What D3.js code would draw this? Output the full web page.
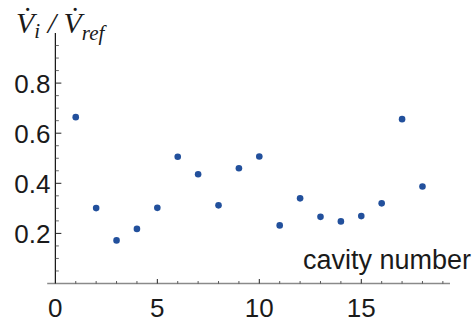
<!DOCTYPE html>
<html>
  <head>
    <meta charset="utf-8" />
    <title>Cavity flow ratio</title>
    <script src="https://d3js.org/d3.v7.min.js"></script>
    <style>
      body { margin: 0; background: #fff; }
      text { font-family: "Liberation Sans", Arial, sans-serif; }
      text.title { font-family: "Liberation Serif", "Times New Roman", serif; }
    </style>
  </head>
  <body>
    <svg width="474" height="331"></svg>

    <script>
      // values
      const cavities = [1, 2, 3, 4, 5, 6, 7, 8, 9, 10, 11, 12, 13, 14, 15, 16, 17, 18];
      const ratios = [0.664, 0.301, 0.172, 0.218, 0.302, 0.506, 0.436, 0.312, 0.46,
                      0.507, 0.232, 0.34, 0.266, 0.248, 0.269, 0.32, 0.656, 0.387];
      const xTicks = [0, 5, 10, 15];
      const yTicks = [0.2, 0.4, 0.6, 0.8];

      const svg = d3.select("svg");

      const x = d3.scaleLinear().domain([-0.4, 19.35]).range([47.2, 450]);
      const y = d3.scaleLinear().domain([0, 1]).range([283.5, 33]);

      // x axis (grey line, ticks pointing up)
      svg.append("line")
        .attr("x1", x.range()[0]).attr("x2", x.range()[1])
        .attr("y1", y(0)).attr("y2", y(0))
        .attr("stroke", "#8a8a8a").attr("stroke-width", 1.4);

      const xMinor = d3.range(1, 20).filter((d) => d % 5 !== 0);
      svg.selectAll(".xminor").data(xMinor).enter().append("line")
        .attr("x1", (d) => x(d)).attr("x2", (d) => x(d))
        .attr("y1", y(0)).attr("y2", y(0) - 2.5)
        .attr("stroke", "#333").attr("stroke-width", 0.8);
      svg.selectAll(".xmajor").data(xTicks.filter((d) => d > 0)).enter().append("line")
        .attr("x1", (d) => x(d)).attr("x2", (d) => x(d))
        .attr("y1", y(0)).attr("y2", y(0) - 4.5)
        .attr("stroke", "#222").attr("stroke-width", 1);

      svg.selectAll(".xlab").data(xTicks).enter().append("text")
        .attr("x", (d) => x(d)).attr("y", 316.5)
        .attr("text-anchor", "middle")
        .attr("font-size", 26).attr("fill", "#1a1a1a")
        .text((d) => d);

      // y axis (black line, ticks pointing right)
      svg.append("line")
        .attr("x1", x(0)).attr("x2", x(0))
        .attr("y1", y(0)).attr("y2", y.range()[1])
        .attr("stroke", "#111").attr("stroke-width", 1.2);

      const yMinor = d3.range(1, 20).map((d) => d * 0.05).filter((d) => Math.round(d * 20) % 4 !== 0);
      svg.selectAll(".yminor").data(yMinor).enter().append("line")
        .attr("x1", x(0)).attr("x2", x(0) + 3.5)
        .attr("y1", (d) => y(d)).attr("y2", (d) => y(d))
        .attr("stroke", "#444").attr("stroke-width", 0.8);
      svg.selectAll(".ymajor").data(yTicks).enter().append("line")
        .attr("x1", x(0)).attr("x2", x(0) + 6)
        .attr("y1", (d) => y(d)).attr("y2", (d) => y(d))
        .attr("stroke", "#222").attr("stroke-width", 1);

      svg.selectAll(".ylab").data(yTicks).enter().append("text")
        .attr("x", 50.5).attr("y", (d) => y(d) + 9.5)
        .attr("text-anchor", "end")
        .attr("font-size", 26).attr("fill", "#1a1a1a")
        .text((d) => d.toFixed(1));

      // points
      svg.selectAll(".pt").data(cavities).enter().append("circle")
        .attr("cx", (d) => x(d))
        .attr("cy", (d, i) => y(ratios[i]))
        .attr("r", 3.3)
        .attr("fill", "#22509c");

      // axis labels
      svg.append("text")
        .attr("x", 471).attr("y", 268.5)
        .attr("text-anchor", "end")
        .attr("font-size", 27).attr("fill", "#1a1a1a")
        .text("cavity number");

      const title = svg.append("text")
        .attr("class", "title")
        .attr("x", 16).attr("y", 33)
        .attr("font-style", "italic")
        .attr("font-size", 30).attr("fill", "#1a1a1a");
      title.append("tspan").text("V\u0307");
      title.append("tspan").attr("font-size", 21).attr("dy", 5).text("i");
      title.append("tspan").attr("dy", -5).text(" / ");
      title.append("tspan").text("V\u0307");
      title.append("tspan").attr("font-size", 21).attr("dy", 7).text("ref");
    </script>
  </body>
</html>
